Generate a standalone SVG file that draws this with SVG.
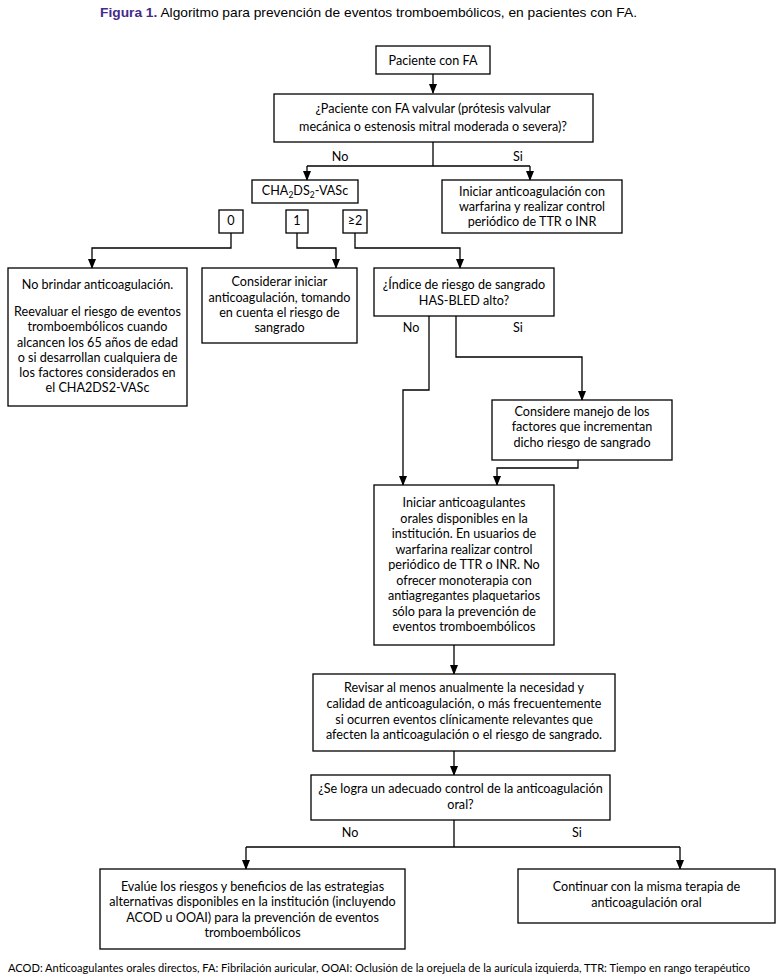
<svg xmlns="http://www.w3.org/2000/svg" width="782" height="979" viewBox="0 0 782 979">
<style>
.b{fill:#fff;stroke:#000;stroke-width:1.3}
.t{font-family:Lato,"Open Sans",sans-serif;font-size:12.6px;fill:#000;text-anchor:middle}
.l{font-family:Lato,"Open Sans",sans-serif;font-size:12.6px;fill:#000;text-anchor:middle}
.c{fill:none;stroke:#000;stroke-width:1.3}
.ti{font-family:"Liberation Sans",Arial,sans-serif;font-size:13.5px;fill:#000}
.f{font-family:Lato,"Open Sans",sans-serif;font-size:11.1px;fill:#000}
</style>
<defs>
<marker id="ah" markerWidth="10" markerHeight="10" refX="9" refY="5" orient="auto" markerUnits="userSpaceOnUse">
<path d="M0,1 L10,5 L0,9 Z" fill="#000"/>
</marker>
</defs>
<rect width="782" height="979" fill="#fff"/>
<text class="ti" x="100" y="17" textLength="537" lengthAdjust="spacingAndGlyphs"><tspan font-weight="bold" fill="#452a8a">Figura 1.</tspan> Algoritmo para prevención de eventos tromboembólicos, en pacientes con FA.</text>

<g id="connectors">
<path class="c" d="M433,74 V93" marker-end="url(#ah)"/>
<path class="c" d="M433,142 V166"/>
<path class="c" d="M307,166 H530"/>
<path class="c" d="M307,166 V180" marker-end="url(#ah)"/>
<path class="c" d="M530,166 V180" marker-end="url(#ah)"/>
<path class="c" d="M231,233 V248 H92 V268" marker-end="url(#ah)"/>
<path class="c" d="M297,233 V248 H336 V268" marker-end="url(#ah)"/>
<path class="c" d="M355,233 V248 H460 V268" marker-end="url(#ah)"/>
<path class="c" d="M429,316 V390 H403 V485" marker-end="url(#ah)"/>
<path class="c" d="M456,316 V357 H582 V400" marker-end="url(#ah)"/>
<path class="c" d="M578,460 V468 H497 V485" marker-end="url(#ah)"/>
<path class="c" d="M454,645 V674" marker-end="url(#ah)"/>
<path class="c" d="M454,751 V775" marker-end="url(#ah)"/>
<path class="c" d="M454,820 V847"/>
<path class="c" d="M246,847 H680"/>
<path class="c" d="M246,847 V869" marker-end="url(#ah)"/>
<path class="c" d="M680,847 V869" marker-end="url(#ah)"/>
<text class="l" x="340" y="161">No</text>
<text class="l" x="518" y="161">Si</text>
<text class="l" x="411" y="332">No</text>
<text class="l" x="518" y="332">Si</text>
<text class="l" x="350" y="837">No</text>
<text class="l" x="577" y="837">Si</text>
</g>

<g id="n-paciente">
<rect class="b" x="376" y="46" width="114" height="28"/>
<text class="t" x="433" y="65">Paciente con FA</text>
</g>
<g id="n-valvular">
<rect class="b" x="274" y="94" width="319" height="48"/>
<text class="t" x="433" y="113">¿Paciente con FA valvular (prótesis valvular</text>
<text class="t" x="433" y="131">mecánica o estenosis mitral moderada o severa)?</text>
</g>
<g id="n-cha">
<rect class="b" x="252" y="180" width="106" height="23"/>
<text class="t" x="305" y="195">CHA<tspan font-size="8.5" dy="3">2</tspan><tspan dy="-3">DS</tspan><tspan font-size="8.5" dy="3">2</tspan><tspan dy="-3">-VASc</tspan></text>
</g>
<g id="n-warfarina">
<rect class="b" x="442" y="180" width="180" height="53"/>
<text class="t" x="532" y="196">Iniciar anticoagulación con</text>
<text class="t" x="532" y="211">warfarina y realizar control</text>
<text class="t" x="532" y="226">periódico de TTR o INR</text>
</g>
<g id="n-0">
<rect class="b" x="219" y="210" width="24" height="23"/>
<text class="t" x="231" y="225">0</text>
</g>
<g id="n-1">
<rect class="b" x="286" y="210" width="22" height="23"/>
<text class="t" x="297" y="225">1</text>
</g>
<g id="n-2">
<rect class="b" x="343" y="210" width="24" height="23"/>
<text class="t" x="355" y="225">≥2</text>
</g>
<g id="n-nobrindar">
<rect class="b" x="8" y="268" width="179" height="138"/>
<text class="t" x="97.5" y="289">No brindar anticoagulación.</text>
<text class="t" x="97.5" y="316">Reevaluar el riesgo de eventos</text>
<text class="t" x="97.5" y="331">tromboembólicos cuando</text>
<text class="t" x="97.5" y="347">alcancen los 65 años de edad</text>
<text class="t" x="97.5" y="362">o si desarrollan cualquiera de</text>
<text class="t" x="97.5" y="377">los factores considerados en</text>
<text class="t" x="97.5" y="392">el CHA2DS2-VASc</text>
</g>
<g id="n-considerar">
<rect class="b" x="202" y="268" width="155" height="75"/>
<text class="t" x="279.5" y="286">Considerar iniciar</text>
<text class="t" x="279.5" y="302">anticoagulación, tomando</text>
<text class="t" x="279.5" y="317">en cuenta el riesgo de</text>
<text class="t" x="279.5" y="332">sangrado</text>
</g>
<g id="n-hasbled">
<rect class="b" x="374" y="268" width="180" height="48"/>
<text class="t" x="464" y="289">¿Índice de riesgo de sangrado</text>
<text class="t" x="464" y="305">HAS-BLED alto?</text>
</g>
<g id="n-considere">
<rect class="b" x="492" y="400" width="180" height="60"/>
<text class="t" x="582" y="416">Considere manejo de los</text>
<text class="t" x="582" y="431">factores que incrementan</text>
<text class="t" x="582" y="447">dicho riesgo de sangrado</text>
</g>
<g id="n-iniciar">
<rect class="b" x="374" y="485" width="180" height="160"/>
<text class="t" x="464" y="507">Iniciar anticoagulantes</text>
<text class="t" x="464" y="522.5">orales disponibles en la</text>
<text class="t" x="464" y="538">institución. En usuarios de</text>
<text class="t" x="464" y="553.5">warfarina realizar control</text>
<text class="t" x="464" y="569">periódico de TTR o INR. No</text>
<text class="t" x="464" y="584.5">ofrecer monoterapia con</text>
<text class="t" x="464" y="600">antiagregantes plaquetarios</text>
<text class="t" x="464" y="615.5">sólo para la prevención de</text>
<text class="t" x="464" y="631">eventos tromboembólicos</text>
</g>
<g id="n-revisar">
<rect class="b" x="313" y="674" width="302" height="77"/>
<text class="t" x="464" y="692">Revisar al menos anualmente la necesidad y</text>
<text class="t" x="464" y="708">calidad de anticoagulación, o más frecuentemente</text>
<text class="t" x="464" y="724">si ocurren eventos clínicamente relevantes que</text>
<text class="t" x="464" y="739">afecten la anticoagulación o el riesgo de sangrado.</text>
</g>
<g id="n-selogra">
<rect class="b" x="311" y="775" width="299" height="45"/>
<text class="t" x="460.5" y="793">¿Se logra un adecuado control de la anticoagulación</text>
<text class="t" x="460.5" y="809">oral?</text>
</g>
<g id="n-evalue">
<rect class="b" x="100" y="869" width="305" height="80"/>
<text class="t" x="252.5" y="891">Evalúe los riesgos y beneficios de las estrategias</text>
<text class="t" x="252.5" y="906">alternativas disponibles en la institución (incluyendo</text>
<text class="t" x="252.5" y="922">ACOD u OOAI) para la prevención de eventos</text>
<text class="t" x="252.5" y="937">tromboembólicos</text>
</g>
<g id="n-continuar">
<rect class="b" x="518" y="869" width="257" height="54"/>
<text class="t" x="646.5" y="891">Continuar con la misma terapia de</text>
<text class="t" x="646.5" y="907">anticoagulación oral</text>
</g>
<text class="f" x="8" y="972">ACOD: Anticoagulantes orales directos, FA: Fibrilación auricular, OOAI: Oclusión de la orejuela de la aurícula izquierda, TTR: Tiempo en rango terapéutico</text>
</svg>
